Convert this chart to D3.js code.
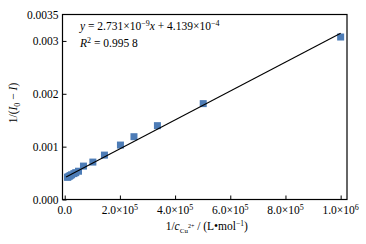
<!DOCTYPE html>
<html><head><meta charset="utf-8">
<script src="https://cdn.jsdelivr.net/npm/d3@7"></script>
<style>body{margin:0;background:#fff}svg{display:block}text{font-family:"Liberation Serif","Times New Roman",serif;}</style>
</head><body><svg id="c" width="366" height="244"></svg>
<script>
const xValues = [10000, 12500, 16667, 20000, 25000, 33333, 40000, 50000, 68000, 102000, 144000, 202000, 251000, 336000, 502000, 1000000];
const yValues = [0.000420, 0.000428, 0.000440, 0.000452, 0.000468, 0.000490, 0.000508, 0.000535, 0.000632, 0.000708, 0.000840, 0.001030, 0.001188, 0.001397, 0.001814, 0.003074];
const slope = 2.731e-9, intercept = 4.139e-4;
const xTicks = [0, 2e5, 4e5, 6e5, 8e5, 1e6];
const xTickLabels = ["0.0", "2.0×10<sup>5</sup>", "4.0×10<sup>5</sup>", "6.0×10<sup>5</sup>", "8.0×10<sup>5</sup>", "1.0×10<sup>6</sup>"];
const yTicks = [0, 0.001, 0.002, 0.003, 0.0035];
const yTickLabels = ["0.000", "0.001", "0.002", "0.003", "0.0035"];

const svg = d3.select("#c");
const L = 62.5, R = 347, T = 14.5, B = 199.5;
const FS = 11.5;
const x = d3.scaleLinear().domain([-8000, 1023000]).range([L, R]);
const y = d3.scaleLinear().domain([0, 0.0035]).range([B, T]);

// frame
svg.append("rect").attr("x", L).attr("y", T).attr("width", R - L).attr("height", B - T)
  .attr("fill", "none").attr("stroke", "#000").attr("stroke-width", 1.2);

// x axis
const xa = svg.append("g").attr("transform", `translate(0,${B})`)
  .call(d3.axisBottom(x).tickValues(xTicks).tickSizeInner(-4).tickSizeOuter(0).tickFormat(""));
xa.select(".domain").remove();
xTicks.forEach((v, i) => {
  const t = svg.append("text").attr("x", x(v)).attr("y", B + 14).attr("text-anchor", "middle")
    .attr("font-size", FS);
  const lab = xTickLabels[i];
  if (lab.includes("<sup>")) {
    const [base, rest] = lab.split("<sup>");
    t.append("tspan").text(base);
    t.append("tspan").attr("dy", -4).attr("font-size", 8).text(rest.replace("</sup>", ""));
  } else t.text(lab);
});

// y axis
const ya = svg.append("g").attr("transform", `translate(${L},0)`)
  .call(d3.axisLeft(y).tickValues(yTicks.slice(0, 4)).tickSizeInner(-4).tickSizeOuter(0).tickFormat(""));
ya.select(".domain").remove();
yTicks.forEach((v, i) => {
  svg.append("text").attr("x", L - 4).attr("y", y(v) + 4).attr("text-anchor", "end")
    .attr("font-size", FS).text(yTickLabels[i]);
});

// y label
const yl = svg.append("text").attr("transform", `translate(17,${(T + B) / 2 - 4}) rotate(-90)`)
  .attr("text-anchor", "middle").attr("font-size", FS);
yl.append("tspan").text("1/(");
yl.append("tspan").attr("font-style", "italic").text("I");
yl.append("tspan").attr("font-size", 8).attr("dy", 3).text("0");
yl.append("tspan").attr("dy", -3).text(" − ");
yl.append("tspan").attr("font-style", "italic").text("I");
yl.append("tspan").text(")");

// x label
const xl = svg.append("text").attr("x", (L + R) / 2 + 2).attr("y", 230).attr("text-anchor", "middle").attr("font-size", FS);
xl.append("tspan").text("1/");
xl.append("tspan").attr("font-style", "italic").text("c");
xl.append("tspan").attr("font-size", 7).attr("dy", 3).text("Cu");
xl.append("tspan").attr("font-size", 6).attr("dy", -5).text("2+");
xl.append("tspan").attr("dy", 2).text(" / (L•mol");
xl.append("tspan").attr("font-size", 7.5).attr("dy", -4).text("−1");
xl.append("tspan").attr("dy", 4).text(")");

// fit line
const x0 = 5000, x1 = 1000000;
const s = 7;
svg.append("g").selectAll("rect").data(xValues.map((v, i) => [v, yValues[i]])).join("rect")
  .attr("x", d => x(d[0]) - s / 2).attr("y", d => y(d[1]) - s / 2)
  .attr("width", s).attr("height", s).attr("fill", "#4d7cb6");
svg.append("line").attr("x1", x(x0)).attr("y1", y(slope * x0 + intercept))
  .attr("x2", x(x1)).attr("y2", y(slope * x1 + intercept))
  .attr("stroke", "#000").attr("stroke-width", 1.1);

// annotation
const a1 = svg.append("text").attr("x", 80).attr("y", 30).attr("font-size", FS);
a1.append("tspan").attr("font-style", "italic").text("y");
a1.append("tspan").text(" = 2.731×10");
a1.append("tspan").attr("font-size", 8).attr("dy", -4).text("−9");
a1.append("tspan").attr("dy", 4).attr("font-style", "italic").text("x");
a1.append("tspan").text(" + 4.139×10");
a1.append("tspan").attr("font-size", 8).attr("dy", -4).text("−4");
const a2 = svg.append("text").attr("x", 80).attr("y", 47).attr("font-size", FS);
a2.append("tspan").attr("font-style", "italic").text("R");
a2.append("tspan").attr("font-size", 8).attr("dy", -4).text("2");
a2.append("tspan").attr("dy", 4).text(" = 0.995 8");
</script></body></html>
